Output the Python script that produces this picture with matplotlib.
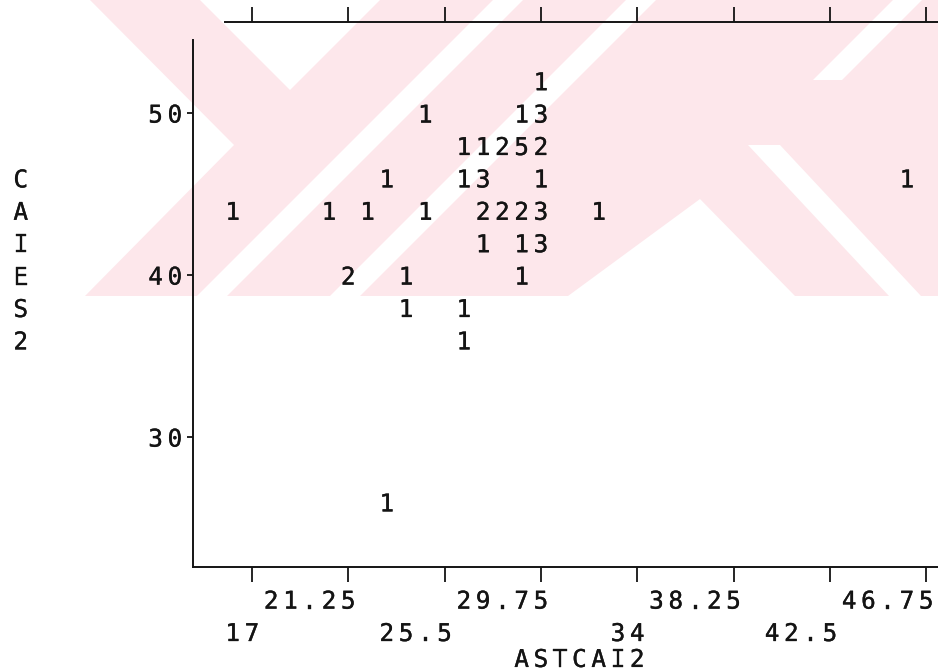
import matplotlib
matplotlib.use("Agg")
import matplotlib.pyplot as plt
import matplotlib.patheffects as pe
from matplotlib.patches import Polygon

# SPSS style character scatterplot: CAIES2 by ASTCAI2 (digits = number of cases)
x_ticks = [17, 21.25, 25.5, 29.75, 34, 38.25, 42.5, 46.75]
x_labels_upper = ["21.25", "29.75", "38.25", "46.75"]   # under ticks 2, 4, 6, 8
x_labels_lower = ["17", "25.5", "34", "42.5"]            # under ticks 1, 3, 5, 7
y_ticks = [30, 40, 50]
y_labels = ["30", "40", "50"]
x_title = "ASTCAI2"
y_title = "CAIES2"

cell_x = [29.75,
          24.65, 28.9, 29.75,
          26.35, 27.2, 28.05, 28.9, 29.75,
          22.95, 26.35, 27.2, 29.75, 45.9,
          16.15, 20.4, 22.1, 24.65, 27.2, 28.05, 28.9, 29.75, 32.3,
          27.2, 28.9, 29.75,
          21.25, 23.8, 28.9,
          23.8, 26.35,
          26.35,
          22.95]
cell_y = [52,
          50, 50, 50,
          48, 48, 48, 48, 48,
          46, 46, 46, 46, 46,
          44, 44, 44, 44, 44, 44, 44, 44, 44,
          42, 42, 42,
          40, 40, 40,
          38, 38,
          36,
          26]
cell_n = [1,
          1, 1, 3,
          1, 1, 2, 5, 2,
          1, 1, 3, 1, 1,
          1, 1, 1, 1, 2, 2, 2, 3, 1,
          1, 1, 3,
          2, 1, 1,
          1, 1,
          1,
          1]

W, H = 938, 672
ink = "#141414"
pink = "#fde7eb"
col = (x_ticks[1] - x_ticks[0]) / 5   # one printer column
row = 2.0                              # one printer line

fig = plt.figure(figsize=(W / 100, H / 100), dpi=100)
fig.patch.set_facecolor("white")


def px(pts):
    return [(x / W, 1 - y / H) for x, y in pts]


# faint scanned watermark in the upper part of the page
fig.patches.append(Polygon(px([(0, 0), (W, 0), (W, 296), (0, 296)]),
                           closed=True, transform=fig.transFigure,
                           facecolor=pink, edgecolor="none", zorder=-10))
cutouts = [
    [(0, 0), (90, 0), (234, 145), (85, 296), (0, 296)],
    [(200, 0), (290, 90), (380, 0)],
    [(197, 296), (227, 296), (523, 0), (493, 0)],
    [(330, 296), (360, 296), (656, 0), (626, 0)],
    [(568, 296), (700, 199), (795, 296)],
    [(748, 145), (780, 145), (921, 296), (889, 296)],
    [(813, 80), (842, 80), (922, 0), (893, 0)],
]
for poly in cutouts:
    fig.patches.append(Polygon(px(poly), closed=True, transform=fig.transFigure,
                               facecolor="white", edgecolor="none", zorder=-9))

ax = fig.add_axes([193 / W, 105 / H, (W - 193) / W, (650 - 105) / H])
ax.set_facecolor("none")
ax.set_xlim(14.40, 47.27)
ax.set_ylim(21.98, 55.62)

for side in ["left", "bottom", "top"]:
    ax.spines[side].set_linewidth(1.4)
    ax.spines[side].set_color(ink)
ax.spines["right"].set_visible(False)
ax.spines["left"].set_bounds(21.98, 54.5)
ax.spines["top"].set_bounds(15.81, 47.27)

ax.set_xticks(x_ticks)
ax.set_yticks(y_ticks)
ax.tick_params(axis="x", direction="out", length=11, width=1.3, color=ink,
               top=True, bottom=True, labelbottom=False, labeltop=False)
ax.tick_params(axis="y", direction="out", length=4, width=1.3, color=ink,
               left=True, labelleft=False)

txt = dict(family="DejaVu Sans Mono", fontsize=17.5, color=ink,
           ha="center", va="center_baseline", clip_on=False,
           path_effects=[pe.withStroke(linewidth=0.25, foreground=ink)])


def put(s, x_right, y):
    # lay a string out on the printer grid, last character on x_right
    for i, ch in enumerate(s):
        ax.text(x_right - (len(s) - 1 - i) * col, y, ch, **txt)


for x, y, n in zip(cell_x, cell_y, cell_n):
    ax.text(x, y, str(n), **txt)

for lab, t in zip(x_labels_upper, x_ticks[1::2]):
    put(lab, t, 20.0)
for lab, t in zip(x_labels_lower, x_ticks[0::2]):
    put(lab, t, 18.0)
put(x_title, x_ticks[4], 16.4)

for lab, t in zip(y_labels, y_ticks):
    put(lab, x_ticks[0] - 4 * col, t)

for i, ch in enumerate(y_title):
    ax.text(x_ticks[0] - 12 * col, 46 - i * row, ch, **txt)

fig.savefig("out.png", dpi=100)
